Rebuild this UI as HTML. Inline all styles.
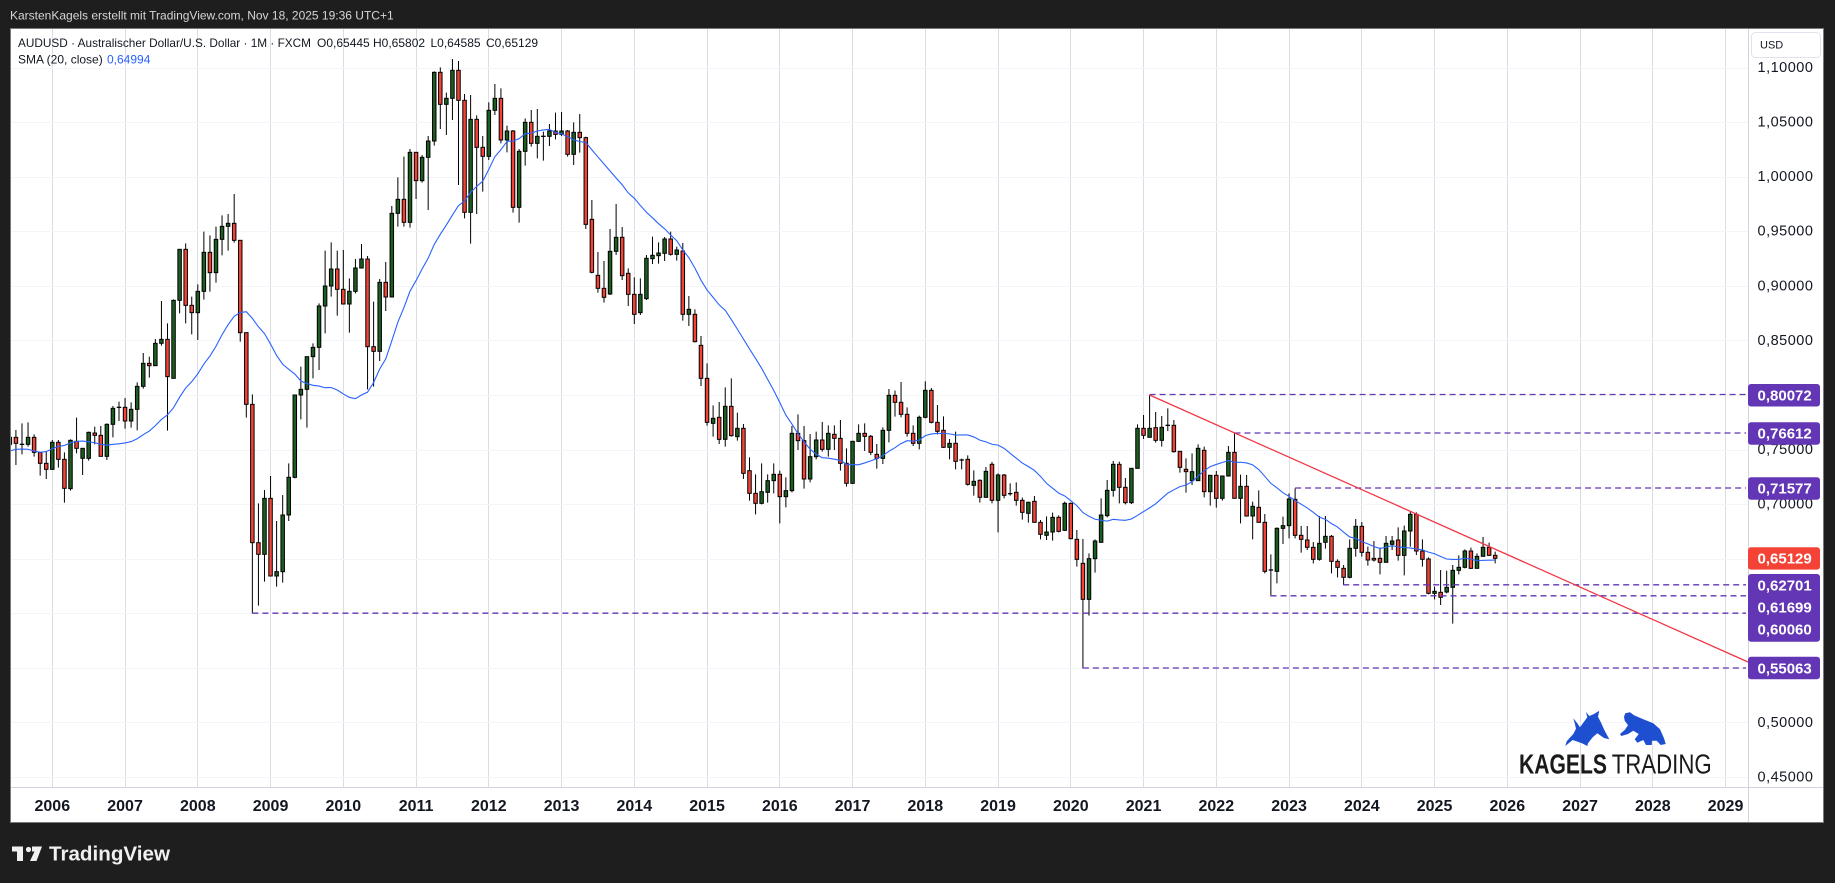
<!DOCTYPE html>
<html><head><meta charset="utf-8"><style>
html,body{margin:0;padding:0;background:#1e1e1e;width:1835px;height:883px;overflow:hidden}
svg{display:block}
text{font-family:"Liberation Sans",Arial,sans-serif}
</style></head><body>
<svg id="s" width="1835" height="883" viewBox="0 0 1835 883" xmlns="http://www.w3.org/2000/svg">
<rect width="1835" height="883" fill="#1e1e1e"/>
<text x="10" y="19.5" font-size="12" fill="#d6d6d6">KarstenKagels erstellt mit TradingView.com, Nov 18, 2025 19:36 UTC+1</text>
<rect x="10.5" y="28.5" width="1813" height="794" fill="#ffffff" stroke="#7a7a7a"/>
<defs><clipPath id="cp"><rect x="11" y="29" width="1737" height="758"/></clipPath></defs>
<!-- vertical grid -->
<path fill="none" stroke="#dadde5" stroke-width="1" d="M52.5 29V787M125.5 29V787M197.5 29V787M270.5 29V787M343.5 29V787M416.5 29V787M488.5 29V787M561.5 29V787M634.5 29V787M707.5 29V787M779.5 29V787M852.5 29V787M925.5 29V787M998.5 29V787M1070.5 29V787M1143.5 29V787M1216.5 29V787M1289.5 29V787M1361.5 29V787M1434.5 29V787M1507.5 29V787M1580.5 29V787M1652.5 29V787M1725.5 29V787"/>
<!-- horizontal grid -->
<path fill="none" stroke="#f3f5f8" stroke-width="1" d="M11 68.5H1748M11 122.5H1748M11 177.5H1748M11 231.5H1748M11 286.5H1748M11 340.5H1748M11 395.5H1748M11 450.5H1748M11 504.5H1748M11 559.5H1748M11 613.5H1748M11 668.5H1748M11 722.5H1748M11 777.5H1748"/>
<!-- axis lines -->
<path fill="none" stroke="#d1d4dc" stroke-width="1" d="M1748.5 29V822M11 787.5H1823"/>

<g clip-path="url(#cp)">
  <g id="cd"></g>
  <polyline id="sma" fill="none" stroke="#2962ff" stroke-width="1.1" points=""/>
  <g stroke="#6236b4" stroke-width="1.3" stroke-dasharray="6,4" fill="none">
    <path d="M1149.6 394.5H1746"/>
    <path d="M1234.5 433H1746"/>
    <path d="M1295.1 488H1746"/>
    <path d="M1343.2 584.8H1746"/>
    <path d="M1270.5 595.8H1746"/>
    <path d="M252.4 613.2H1746"/>
    <path d="M1082.9 668H1746"/>
  </g>
  <path d="M1149.6 395L1748 662" stroke="#f23645" stroke-width="1.3" fill="none"/>
</g>

<!-- legend -->
<text x="18" y="47" font-size="12" fill="#131722" textLength="293" lengthAdjust="spacingAndGlyphs">AUDUSD · Australischer Dollar/U.S. Dollar · 1M · FXCM</text>
<text x="317" y="47" font-size="12" fill="#131722">O0,65445</text>
<text x="373" y="47" font-size="12" fill="#131722">H0,65802</text>
<text x="430.5" y="47" font-size="12" fill="#131722">L0,64585</text>
<text x="486" y="47" font-size="12" fill="#131722">C0,65129</text>
<text x="18" y="63.5" font-size="12" fill="#131722">SMA (20, close)</text>
<text x="107" y="63.5" font-size="12" fill="#2962ff">0,64994</text>

<!-- price axis -->
<rect x="1751.5" y="32.5" width="69" height="25" rx="4" fill="#ffffff" stroke="#e0e3eb"/>
<text x="1760" y="48.3" font-size="11" fill="#131722">USD</text>
<g font-size="14.5" fill="#131722" letter-spacing="0.5">
<text x="1757.5" y="72">1,10000</text>
<text x="1757.5" y="126.6">1,05000</text>
<text x="1757.5" y="181.2">1,00000</text>
<text x="1757.5" y="235.7">0,95000</text>
<text x="1757.5" y="290.3">0,90000</text>
<text x="1757.5" y="344.9">0,85000</text>
<text x="1757.5" y="399.5">0,80000</text>
<text x="1757.5" y="454">0,75000</text>
<text x="1757.5" y="508.6">0,70000</text>
<text x="1757.5" y="563.2">0,65000</text>
<text x="1757.5" y="617.8">0,60000</text>
<text x="1757.5" y="672.3">0,55000</text>
<text x="1757.5" y="726.9">0,50000</text>
<text x="1757.5" y="781.5">0,45000</text>
</g>
<!-- price boxes -->
<g fill="#6236b4">
<rect x="1748" y="384" width="72" height="22.5" rx="3"/>
<rect x="1748" y="422.3" width="72" height="22.5" rx="3"/>
<rect x="1748" y="477.3" width="72" height="22.5" rx="3"/>
<rect x="1748" y="574" width="72" height="67.7" rx="3"/>
<rect x="1748" y="656.7" width="72" height="22.6" rx="3"/>
</g>
<rect x="1748" y="547.3" width="72" height="22.3" rx="3" fill="#f44336"/>
<g font-size="15" font-weight="bold" fill="#ffffff">
<text x="1757.5" y="400.4">0,80072</text>
<text x="1757.5" y="438.7">0,76612</text>
<text x="1757.5" y="493.7">0,71577</text>
<text x="1757.5" y="563.7">0,65129</text>
<text x="1757.5" y="590.4">0,62701</text>
<text x="1757.5" y="612.4">0,61699</text>
<text x="1757.5" y="634.4">0,60060</text>
<text x="1757.5" y="673.4">0,55063</text>
</g>

<!-- time axis -->
<g font-size="16" font-weight="bold" fill="#131722" text-anchor="middle">
<text x="52.3" y="811">2006</text>
<text x="125.05" y="811">2007</text>
<text x="197.8" y="811">2008</text>
<text x="270.55" y="811">2009</text>
<text x="343.3" y="811">2010</text>
<text x="416.05" y="811">2011</text>
<text x="488.8" y="811">2012</text>
<text x="561.55" y="811">2013</text>
<text x="634.3" y="811">2014</text>
<text x="707.05" y="811">2015</text>
<text x="779.8" y="811">2016</text>
<text x="852.55" y="811">2017</text>
<text x="925.3" y="811">2018</text>
<text x="998.05" y="811">2019</text>
<text x="1070.8" y="811">2020</text>
<text x="1143.55" y="811">2021</text>
<text x="1216.3" y="811">2022</text>
<text x="1289.05" y="811">2023</text>
<text x="1361.8" y="811">2024</text>
<text x="1434.55" y="811">2025</text>
<text x="1507.3" y="811">2026</text>
<text x="1580.05" y="811">2027</text>
<text x="1652.8" y="811">2028</text>
<text x="1725.55" y="811">2029</text>
</g>

<!-- Kagels logo -->
<polygon fill="#1f4fd1" points="1573.3,718.3 1577.3,723.3 1580,727.3 1587.3,717.3 1586,712 1589.3,716 1594,714 1599.3,710.7 1598,716.7 1600.7,722 1604.7,730.7 1609.3,739.3 1604,738 1597.3,733.3 1592.7,737.3 1588,743.3 1587.3,746 1582,743.3 1572.7,740 1565.3,746 1566.7,741.3 1573.3,734 1576,728.7 1574.7,723.3"/>
<polygon fill="#1f4fd1" points="1625.3,713.3 1630,712.3 1634,715.3 1643.3,719.3 1653.3,723.3 1660,729.3 1664,738.3 1665.7,744 1660.7,745 1656.7,740.7 1652,740.7 1651.7,745 1646,745 1643.3,740 1637.3,742.7 1634.7,739.3 1638.7,734 1633.3,730.7 1628,734 1621.3,736 1620,734 1624.7,730 1628,725.3 1624.7,720.7 1624,716.7"/>
<text x="1519" y="773.3" font-size="27.5" font-weight="bold" fill="#1a1a1a" textLength="88" lengthAdjust="spacingAndGlyphs">KAGELS</text>
<text x="1611.7" y="773.3" font-size="27.5" fill="#1a1a1a" textLength="100" lengthAdjust="spacingAndGlyphs">TRADING</text>

<!-- TradingView footer -->
<g fill="#f0f0f0">
<rect x="12" y="846.5" width="11" height="5"/>
<rect x="17" y="846.5" width="6" height="14.5"/>
<circle cx="28.5" cy="849.5" r="2.6"/>
<polygon points="32,846.5 42,846.5 36.5,861 30,861 34.5,851.5 32,851.5"/>
</g>
<text x="49" y="860.5" font-size="20" font-weight="bold" fill="#f0f0f0" textLength="121" lengthAdjust="spacingAndGlyphs">TradingView</text>
</svg>

<script>
(function(){
var NS='http://www.w3.org/2000/svg';
var g=document.getElementById('cd');
var R=[
[150,'g,862,883,800,905;r,862,880,840,945;d,883,883,820,913;g,862,883,817,890;r,862,907,853,920;r,907,940,907,977;r,940,958,905,987;g,877,958,870,960;r,877,928,870,953;r,928,1015,907,1058;g,871,1016,868,1022;r,874,895,803,910;g,895,925,895,975;g,847,925,845,932;r,849,856,830,883;r,856,919,828,919;g,823,919,820,930;g,775,823,768,862;d,772,772,755,813;r,772,813,744,836;g,778,813,757,833;g,709,778,697,841;g,640,709,609,716;r,640,647,620,683;g,580,647,567,647;g,568,580,453,587;r,568,680,520,842;g,451,685,448,685;g,298,451,298,490;r,298,466,280,520;r,466,488,440,553;g,424,488,403,570;g,307,424,245,449;r,307,368,256,425;g,268,368,230,398;g,229,268,196,316;g,220,229,192,302;r,220,271,132,278;r,271,548,271,575;r,548,763,548,803;r,763,1178,733,1390;r,1178,1213,1060,1367;g,1045,1213,1020,1295;r,1045,1278,978,1278;g,1265,1278,1113,1310;g,1095,1265,1035,1298;g,982,1095,940,1113;g,735,982,735,985;g,718,735,650,808;g,620,718,620,833;g,592,620,580,685;g,468,592,460,660;g,408,468,302,550;g,357,408,277,440;r,357,418,302,497;r,418,462,300,462;g,424,462,385,548;g,354,424,327,430;g,327,354,282,354;r,327,590,318,718;r,590,604,455,710;g,397,604,387,633;r,397,441,336,483;g,190,441,168,441;g,148,190,82,230'],
[50,'r,448,517,320,530;g,307,517,297,533;r,307,392,307,447;g,322,392,315,398;g,273,322,258,480;g,67,273,64,287;r,67,163,52,237;g,145,163,128,255;g,61,145,27,210;r,61,151,33,405;r,151,487,132,505;g,208,487,135,581;r,208,292,196,492;r,292,319,258,425;g,181,319,157,330;g,145,181,102,195;r,145,270,115,280;g,243,270,227,307;r,243,472,240,488;g,304,472,297,518;g,217,304,205,347;r,217,280,180,290;g,259,280,177,325;d,259,259,245,332;g,243,259,222,288;r,243,253,188,268;g,243,253,186,258;r,243,313,240,320;g,247,313,217,345;r,247,263,192,308;r,263,523,260,537;r,508,667,450,670;r,676,715,606,728;r,715,742,633,758;g,604,732,537,735;g,562,604,462,615;r,562,677,531,690;r,670,733,655,768;r,733,793,682,822;g,733,788,685,795;g,625,746,615,750;g,616,626,560,642;g,609,617,577,641;g,567,610,561,633;r,567,613,545,617;g,600,613,590,632;r,603,793,579,812;g,778,793,738,828;r,793,875,778,877;r,886,985,858,1008;r,985,1117,940,1127;g,1105,1120,1066,1160;r,1102,1168,1056,1182;g,1069,1168,1012,1190;r,1069,1157,985,1160;g,1135,1160,1088,1172;r,1135,1270,1122,1287;r,1262,1330,1222,1352;r,1330,1360,1273,1393;g,1325,1360,1240,1363;g,1292,1327,1273,1358;g,1273,1292,1240,1330;r,1273,1340,1262,1420;g,1322,1340,1282,1372;g,1150,1322,1128,1327;r,1150,1172,1093,1200;r,1172,1287,1128,1316;g,1220,1287,1152,1297;g,1170,1220,1145,1228'],
[320,'r,360,388,306,395;g,340,388,316,410;r,343,355,316,390;r,355,430,300,452;r,430,490,385,500;g,364,490,363,492;g,340,364,313,366;r,340,349,310,393;r,349,397,345,405;r,403,415,372,446;g,331,415,322,432;g,226,331,207,367;r,226,247,212,290;r,247,283,186,292;r,283,340,262,350;r,340,370,316,378;g,292,370,287,388;g,211,292,184,295;r,211,307,204,310;r,307,334,255,343;r,331,382,289,384;g,370,382,357,418;r,370,424,335,448;d,420,420,416,448;r,418,493,406,497;g,484,496,451,527;r,481,532,478,548;g,454,532,441,533;r,433,541,426,550;g,465,541,460,637;r,465,526,462,535;d,521,521,490,527;r,517,541,487,557;r,541,577,533,599;g,547,580,545,608;r,544,607,528,608;r,607,643,600,658;g,636,646,589,660;g,592,636,578,662;r,592,634,586,637;g,550,631,545,633;r,550,656,548,658;r,658,718,630,740;r,730,838,657,1045;g,716,838,700,887;g,663,716,658,758;g,585,667,535,667;g,511,587,480,592;g,433,511,423,530;r,433,502,425,550;r,502,548,474,553;g,445,548,445,552;g,325,445,313,446;r,325,346,285,357;g,325,352,225,352;r,323,361,276,368'],
[320,'g,322,361,288,380;d,316,316,265,333;r,316,395,300,398;r,394,442,394,458;r,448,455,415,518;g,455,482,400,495;g,385,482,373,483;r,391,515,380,532;g,466,515,466,557;r,466,535,453,563;g,468,535,467,542;g,397,468,378,470;r,397,535,340,535;g,499,535,464,610;r,499,588,465,590;g,559,588,545,658;r,562,607,511,608;r,607,754,582,760;d,750,750,703,829;g,625,754,622,790;g,617,625,590,672;g,537,617,520,655;r,538,646,505,655;r,646,658,618,698;r,660,682,618,690;r,682,718,666,730;g,670,718,588,722;g,649,667,588,686;r,649,724,645,760;r,724,742,718,772;r,745,772,735,795;g,685,772,658,775;g,619,685,597,710;r,619,697,606,710;r,697,720,680,737;r,715,720,663,725;r,715,727,683,763;g,670,727,648,728;g,663,673,648,690;r,660,706,622,722;g,633,706,617,766;g,583,633,575,680;r,583,693,577,705;r,693,718,658,740;r,717,820,712,823;g,814,820,800,838;r,817,832,750,855;g,802,816,752,820;g,751,802,735,911;g,742,751,706,763;g,693,742,688,745;r,693,745,683,747;g,709,745,700,746;g,682,709,651,710;r,682,706,668,708;r,706,715,695,730']
];
var C=[];
R.forEach(function(r){r[1].split(';').forEach(function(t){t=t.trim();if(!t)return;var p=t.split(',');var v=p.slice(1).map(function(n){return r[0]+parseFloat(n)/3;});C.push({t:p[0],bt:v[0],bb:v[1],wt:v[2],wb:v[3]});});});
function el(tag,a){var e=document.createElementNS(NS,tag);for(var k in a)e.setAttribute(k,a[k]);g.appendChild(e);return e;}
var wick='';
C.forEach(function(c,i){var x=52.3+(i-7)*6.0625;
  wick+='M'+x.toFixed(2)+' '+Math.min(c.wt,c.bt).toFixed(2)+'V'+Math.max(c.wb,c.bb).toFixed(2);});
el('path',{d:wick,stroke:'#000',"stroke-width":'1',fill:'none'});
C.forEach(function(c,i){var x=52.3+(i-7)*6.0625;
  var h=c.bb-c.bt;
  if(c.t==='d'||h<1.2){
    el('path',{d:'M'+(x-2.25).toFixed(2)+' '+c.bt.toFixed(2)+'H'+(x+2.25).toFixed(2),stroke:'#000',"stroke-width":'1.3',fill:'none'});
  } else {
    el('rect',{x:(x-1.75).toFixed(2),y:c.bt.toFixed(2),width:'3.5',height:h.toFixed(2),fill:(c.t==='g'?'#1b5e20':'#f44336'),stroke:'#000',"stroke-width":'1'});
  }
});
var pre=[0.725,0.752,0.765,0.78,0.76,0.72,0.705,0.697,0.70,0.71,0.725,0.745,0.78,0.781,0.773,0.79,0.772,0.78,0.761].map(function(p){return 68+(1.1-p)*1091.5;});
var cl=pre.concat(C.map(function(c){return c.t==='r'?c.bb:c.bt;}));
var pts=[];
for(var i=0;i<C.length;i++){var s=0;for(var j=i;j<i+20;j++)s+=cl[j];var y=s/20;var x=52.3+(i-7)*6.0625;pts.push(x.toFixed(2)+','+y.toFixed(2));}
document.getElementById('sma').setAttribute('points',pts.join(' '));
})();
</script>
</body></html>
